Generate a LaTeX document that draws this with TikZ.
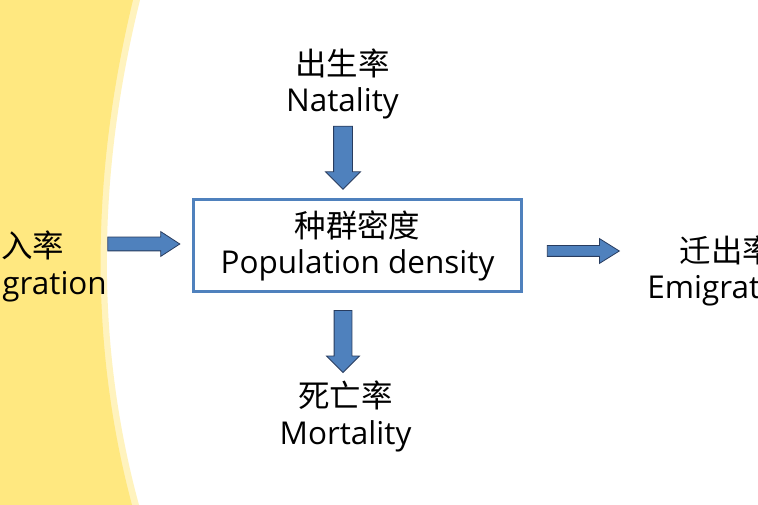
\documentclass[tikz,border=0pt]{standalone}
\usepackage{fontspec}
\setmainfont{Open Sans}
\newfontfamily\cjk{Noto Sans CJK SC}
\usetikzlibrary{shapes.arrows, positioning}
\definecolor{bandyellow}{RGB}{255,232,128}
\definecolor{bandpale}{RGB}{255,243,190}
\definecolor{arrowblue}{RGB}{79,129,189}
\definecolor{arrowline}{RGB}{40,60,95}
\tikzstyle{label} = [align=center, inner sep=0pt, font=\fontsize{23.6}{27.5}\selectfont]
\tikzstyle{densbox} = [draw=arrowblue, line width=2.25pt, minimum width=246pt, minimum height=69pt, inner sep=0pt, font=\fontsize{23.6}{26.5}\selectfont, align=center]
\tikzstyle{blockarr} = [single arrow, draw=arrowline, fill=arrowblue, line width=0.6pt, single arrow head indent=0pt]

\begin{document}
\begin{tikzpicture}[x=0.75pt, y=-0.75pt]
  \clip (0,0) rectangle (758,505);
  % 背景
  \fill[white] (0,0) rectangle (758,505);
  \fill[bandpale] (0,0) -- (140,0) .. controls (98,170) and (94,340) .. (139,505) -- (0,505) -- cycle;
  \fill[bandyellow] (0,0) -- (133,0) .. controls (92,170) and (88,340) .. (132,505) -- (0,505) -- cycle;

  % 种群密度
  \node[densbox] (density) at (357.5,246) {{\cjk 种群密度}\\Population density};

  % 四个因素
  \node[label] (natality) at (342.5,84) {{\cjk 出生率}\\Natality};
  \node[label] (mortality) at (345.5,416.5) {{\cjk 死亡率}\\Mortality};
  \node[label] (immigration) at (17,266.5) {{\cjk 迁入率}\\Immigration};
  \node[label] (emigration) at (727,271) {{\cjk 迁出率}\\Emigration};

  % 箭头
  \node[blockarr, rotate=-90, minimum height=47.25pt, minimum width=25.5pt, inner sep=6.75pt, single arrow head extend=6pt] (natArr) at (343,153) {};
  \node[blockarr, rotate=-90, minimum height=46.5pt, minimum width=24pt, inner sep=6.375pt, single arrow head extend=5.625pt] (mortArr) at (343,337) {};
  \node[blockarr, minimum height=54pt, minimum width=18pt, inner sep=4.875pt, single arrow head extend=4.125pt, single arrow tip angle=66] (immArr) at (138.5,244) {};
  \node[blockarr, minimum height=54pt, minimum width=18pt, inner sep=3.75pt, single arrow head extend=5.25pt, single arrow tip angle=64] (emiArr) at (579,251) {};
\end{tikzpicture}
\end{document}
